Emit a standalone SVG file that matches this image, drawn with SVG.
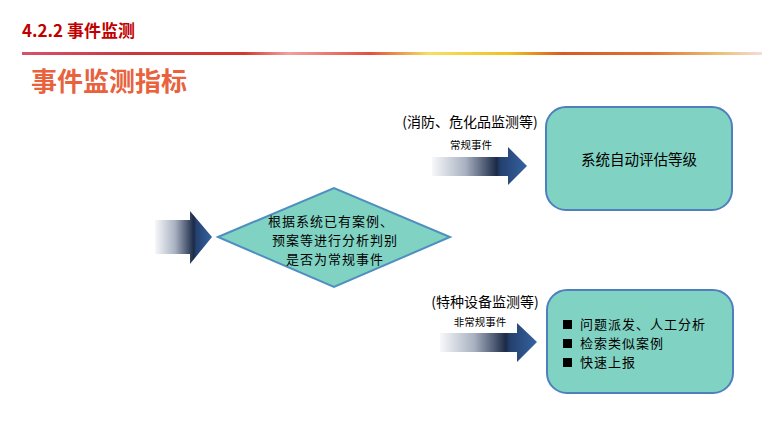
<svg xmlns="http://www.w3.org/2000/svg" width="780" height="439" viewBox="0 0 780 439">
<defs>
<linearGradient id="rule" x1="0" y1="0" x2="1" y2="0">
<stop offset="0" stop-color="#D9506A"/>
<stop offset="0.15" stop-color="#C8383E"/>
<stop offset="0.3" stop-color="#D23A2E"/>
<stop offset="0.36" stop-color="#F2A0A0"/>
<stop offset="0.47" stop-color="#E05040"/>
<stop offset="0.55" stop-color="#F5E060"/>
<stop offset="0.66" stop-color="#F0C020"/>
<stop offset="0.73" stop-color="#D85A20"/>
<stop offset="0.85" stop-color="#E07030"/>
<stop offset="0.94" stop-color="#EAC070"/>
<stop offset="1" stop-color="#F4DCDC"/>
</linearGradient>
<linearGradient id="arr" x1="0" y1="0" x2="1" y2="0">
<stop offset="0" stop-color="#F7F8FA"/>
<stop offset="0.35" stop-color="#A9B2C2"/>
<stop offset="0.68" stop-color="#1C2A47"/>
<stop offset="0.72" stop-color="#24406E"/>
<stop offset="1" stop-color="#3563A3"/>
</linearGradient>
<style>
.cn{font-family:"Noto Sans CJK SC","Liberation Sans",sans-serif;fill:#000}
.body{font-size:13px;letter-spacing:1px}
.box{fill:#80D2C2;stroke:#4F7FBF;stroke-width:2}
.arrow{fill:url(#arr)}
</style>
</defs>
<rect width="780" height="439" fill="#FFFFFF"/>
<g id="header">
<text x="22" y="37" class="cn" style="font-size:17px;font-weight:bold;fill:#C00000">4.2.2 事件监测</text>
<rect x="22" y="52" width="740" height="3" fill="url(#rule)"/>
<text x="31" y="91" class="cn" style="font-size:26px;font-weight:bold;fill:#E8623E">事件监测指标</text>
</g>
<g id="connectors">
<path class="arrow" d="M155,220 H190 V211 L212,237 L190,264 V254 H155 Z"/>
<path class="arrow" d="M432,157 H508 V147 L527,166 L508,185 V176 H432 Z"/>
<path class="arrow" d="M440,333 H517 V323 L537,342 L517,362 V352 H440 Z"/>
<text x="471" y="149" class="cn" text-anchor="middle" style="font-size:10.5px">常规事件</text>
<text x="480" y="326" class="cn" text-anchor="middle" style="font-size:10.5px">非常规事件</text>
<text x="470" y="127" class="cn" text-anchor="middle" style="font-size:14px">(消防、危化品监测等)</text>
<text x="485" y="307" class="cn" text-anchor="middle" style="font-size:14px">(特种设备监测等)</text>
</g>
<g id="decision">
<polygon points="218,237 334,188 450,237 334,287" style="fill:#80D2C2;stroke:#4F8FC0;stroke-width:2"/>
<text x="331" y="226" class="cn body" text-anchor="middle">根据系统已有案例、</text>
<text x="335" y="245" class="cn body" text-anchor="middle">预案等进行分析判别</text>
<text x="335" y="264" class="cn body" text-anchor="middle">是否为常规事件</text>
</g>
<g id="auto-level">
<rect class="box" x="546" y="107" width="186" height="103" rx="20"/>
<text x="639" y="165" class="cn" text-anchor="middle" style="font-size:14.5px">系统自动评估等级</text>
</g>
<g id="manual">
<rect class="box" x="547" y="290" width="186" height="103" rx="20"/>
<rect x="563" y="320" width="9" height="9" fill="#000"/>
<rect x="563" y="339" width="9" height="9" fill="#000"/>
<rect x="563" y="358" width="9" height="9" fill="#000"/>
<text x="580" y="329" class="cn body">问题派发、人工分析</text>
<text x="580" y="348" class="cn body">检索类似案例</text>
<text x="580" y="367" class="cn body">快速上报</text>
</g>
</svg>
